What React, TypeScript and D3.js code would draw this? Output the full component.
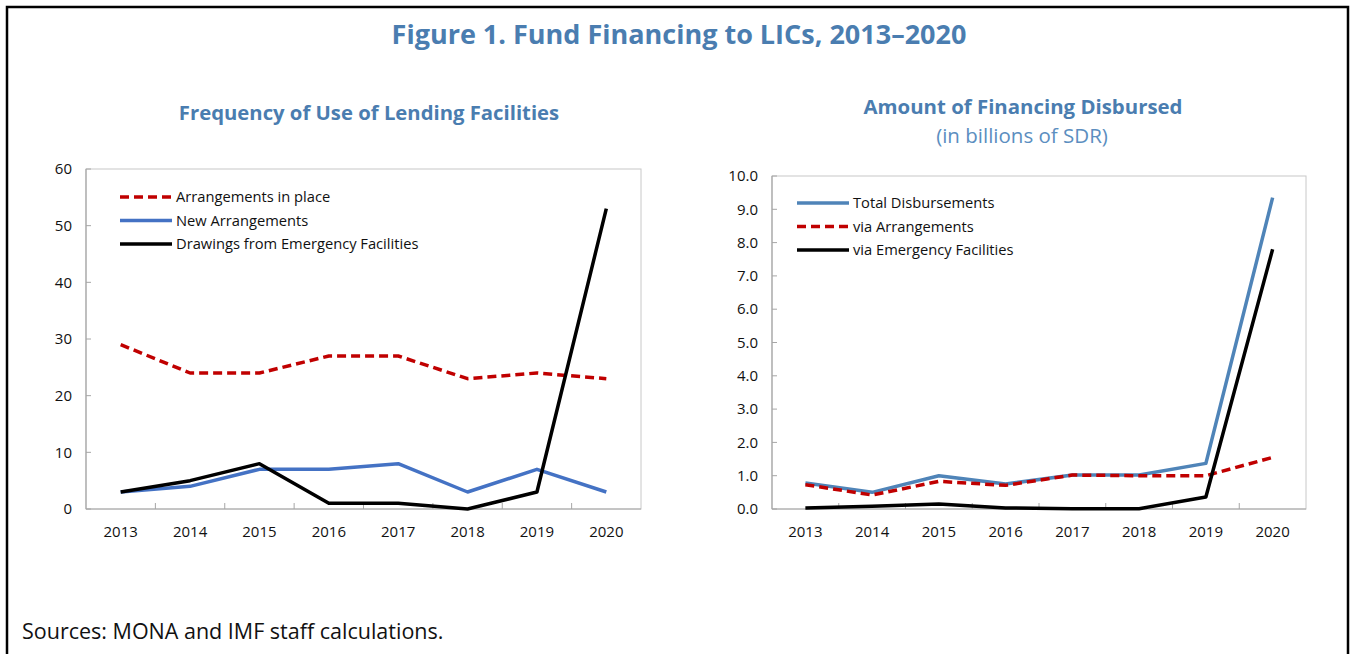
import React, { useEffect } from "react";
import * as d3 from "d3";

// Categories and series
const years = ["2013", "2014", "2015", "2016", "2017", "2018", "2019", "2020"];

const arrangementsInPlace = [29, 24, 24, 27, 27, 23, 24, 23];
const newArrangements = [3, 4, 7, 7, 8, 3, 7, 3];
const emergencyDrawings = [3, 5, 8, 1, 1, 0, 3, 53];

const totalDisbursements = [0.78, 0.5, 1.0, 0.75, 1.02, 1.02, 1.37, 9.35];
const viaArrangements = [0.73, 0.42, 0.83, 0.71, 1.02, 1.0, 1.0, 1.55];
const viaEmergency = [0.03, 0.08, 0.15, 0.03, 0.01, 0.01, 0.36, 7.8];

const leftTicks = [0, 10, 20, 30, 40, 50, 60];
const rightTicks = [0, 1, 2, 3, 4, 5, 6, 7, 8, 9, 10];

const FONT = "'Open Sans', 'Noto Sans', sans-serif";
const TITLE_BLUE = "#4a7db0";
const RED = "#c00000";

type Series = { name: string; values: number[]; color: string; dashed?: boolean };

const leftSeries: Series[] = [
  { name: "Arrangements in place", values: arrangementsInPlace, color: RED, dashed: true },
  { name: "New Arrangements", values: newArrangements, color: "#4472c4" },
  { name: "Drawings from Emergency Facilities", values: emergencyDrawings, color: "#000000" },
];

const rightSeries: Series[] = [
  { name: "Total Disbursements", values: totalDisbursements, color: "#4f84b8" },
  { name: "via Arrangements", values: viaArrangements, color: RED, dashed: true },
  { name: "via Emergency Facilities", values: viaEmergency, color: "#000000" },
];

type PanelProps = {
  left: number;
  right: number;
  top: number;
  bottom: number;
  max: number;
  ticks: number[];
  fmt: (v: number) => string;
  series: Series[];
  legendX: number;
  legendY: number;
};

function Panel({ left, right, top, bottom, max, ticks, fmt, series, legendX, legendY }: PanelProps) {
  const x = d3.scaleBand<string>().domain(years).range([left, right]);
  const y = d3.scaleLinear().domain([0, max]).range([bottom, top]);
  const line = d3
    .line<number>()
    .x((_, i) => (x(years[i]) as number) + x.bandwidth() / 2)
    .y((d) => y(d));

  // category boundaries for the inner x ticks
  const bounds = years.slice(1).map((yr) => x(yr) as number);

  return (
    <g>
      <rect x={left} y={top} width={right - left} height={bottom - top} fill="none" stroke="#c8c8c8" strokeWidth={1} />
      <line x1={left} x2={left} y1={top} y2={bottom} stroke="#a6a6a6" strokeWidth={1.2} />
      <line x1={left} x2={right} y1={bottom} y2={bottom} stroke="#a6a6a6" strokeWidth={1.2} />
      {ticks.map((t) => (
        <g key={t}>
          <line x1={left} x2={left + 5} y1={y(t)} y2={y(t)} stroke="#a6a6a6" />
          <text x={left - 14} y={y(t)} dy="0.35em" textAnchor="end" fontSize={15} fontFamily={FONT} fill="#111">
            {fmt(t)}
          </text>
        </g>
      ))}
      {bounds.map((b) => (
        <line key={b} x1={b} x2={b} y1={bottom} y2={bottom - 6} stroke="#a6a6a6" />
      ))}
      {years.map((yr) => (
        <text
          key={yr}
          x={(x(yr) as number) + x.bandwidth() / 2}
          y={bottom + 28}
          textAnchor="middle"
          fontSize={15}
          fontFamily={FONT}
          fill="#111"
        >
          {yr}
        </text>
      ))}
      {series.map((s) => (
        <path
          key={s.name}
          d={line(s.values) || ""}
          fill="none"
          stroke={s.color}
          strokeWidth={3.5}
          strokeDasharray={s.dashed ? "9,5" : undefined}
          strokeLinejoin="round"
        />
      ))}
      {series.map((s, i) => (
        <g key={s.name} transform={`translate(${legendX},${legendY + i * 23.5})`}>
          <line x1={0} x2={52} y1={0} y2={0} stroke={s.color} strokeWidth={3.5} strokeDasharray={s.dashed ? "9,5" : undefined} />
          <text x={56} y={0} dy="0.35em" fontSize={14.7} fontFamily={FONT} fill="#111">
            {s.name}
          </text>
        </g>
      ))}
    </g>
  );
}

export default function App() {
  useEffect(() => {
    document.body.style.margin = "0";
  }, []);

  return (
    <svg width={1352} height={654} style={{ display: "block", background: "#fff" }}>
      <rect x={0} y={0} width={1352} height={654} fill="#fff" />
      <path d="M7,660 L7,7 L1348,7 L1348,660" fill="none" stroke="#000" strokeWidth={2.5} />

      <text x={679} y={44} textAnchor="middle" fontSize={27} fontWeight="bold" fontFamily={FONT} fill={TITLE_BLUE}>
        Figure 1. Fund Financing to LICs, 2013–2020
      </text>

      <text x={369} y={120} textAnchor="middle" fontSize={20.3} fontWeight="bold" fontFamily={FONT} fill={TITLE_BLUE}>
        Frequency of Use of Lending Facilities
      </text>
      <text x={1023} y={114} textAnchor="middle" fontSize={20.4} fontWeight="bold" fontFamily={FONT} fill={TITLE_BLUE}>
        Amount of Financing Disbursed
      </text>
      <text x={1022} y={143} textAnchor="middle" fontSize={20.5} fontFamily={FONT} fill="#5b8ec0">
        (in billions of SDR)
      </text>

      <Panel
        left={86}
        right={641}
        top={169}
        bottom={509}
        max={60}
        ticks={leftTicks}
        fmt={(v) => String(v)}
        series={leftSeries}
        legendX={120}
        legendY={197}
      />
      <Panel
        left={772}
        right={1306}
        top={176}
        bottom={509}
        max={10}
        ticks={rightTicks}
        fmt={d3.format(".1f")}
        series={rightSeries}
        legendX={797}
        legendY={203}
      />

      <text x={22} y={639} fontSize={21.5} fontFamily={FONT} fill="#111">
        Sources: MONA and IMF staff calculations.
      </text>
    </svg>
  );
}
